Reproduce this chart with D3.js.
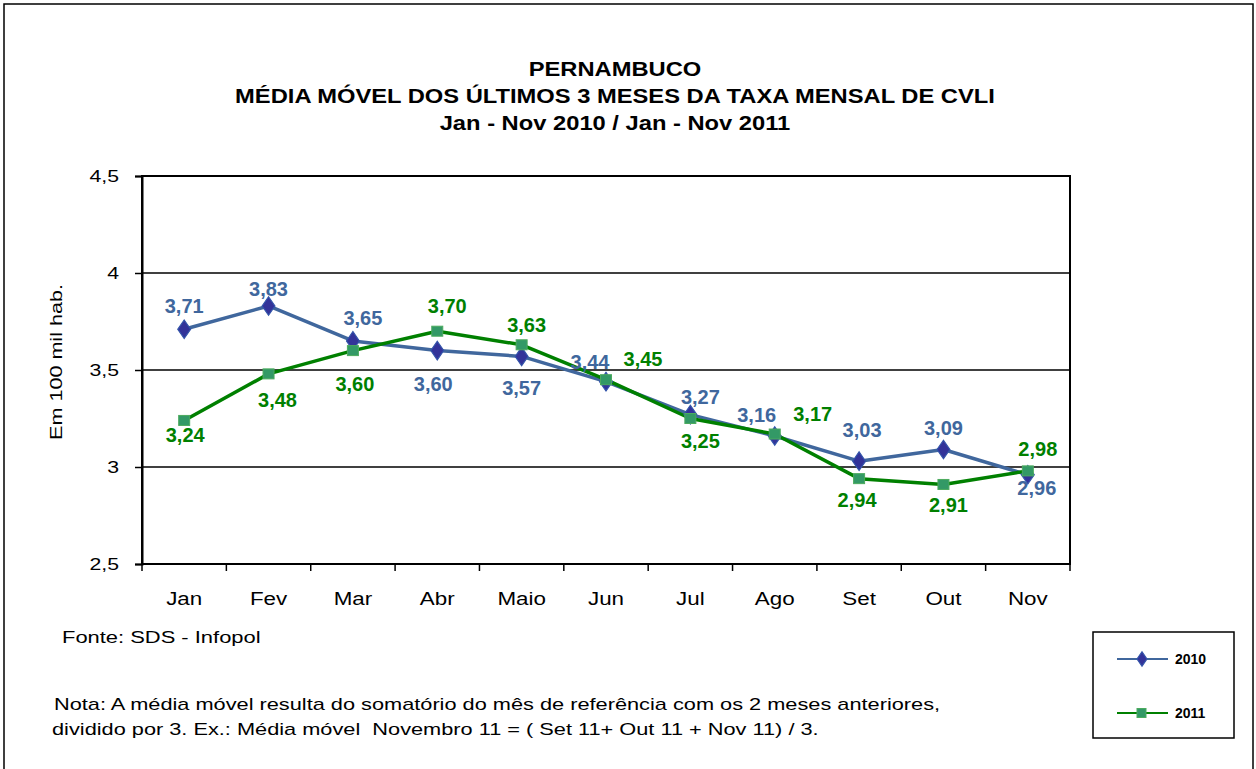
<!DOCTYPE html>
<html>
<head>
<meta charset="utf-8">
<script src="https://cdn.jsdelivr.net/npm/d3@7"></script>
<style>
    body, html { margin: 0; padding: 0; background: #fff; font-family: Arial, "Liberation Sans", sans-serif; }
    #container { width: 1256px; height: 769px; }
    .lbl { font-weight: bold; font-size: 20px; text-anchor: middle; dominant-baseline: central; }
</style>
</head>
<body>
<div id="container"></div>
<script>
    // data
    const months = ["Jan", "Fev", "Mar", "Abr", "Maio", "Jun", "Jul", "Ago", "Set", "Out", "Nov"];
    const values2010 = [3.71, 3.83, 3.65, 3.60, 3.57, 3.44, 3.27, 3.16, 3.03, 3.09, 2.96];
    const values2011 = [3.24, 3.48, 3.60, 3.70, 3.63, 3.45, 3.25, 3.17, 2.94, 2.91, 2.98];
    const yTicks = [2.5, 3, 3.5, 4, 4.5];

    // label offsets (px) from each point, as placed in the original
    const off2010 = [[0, -23], [0, -17], [10, -23], [-4, 33], [0, 32], [-16, -20], [10, -18], [-18, -21], [3, -31], [0, -22], [9, 13]];
    const off2011 = [[1, 15], [9, 26], [2, 33], [10, -25], [5, -20], [37, -21], [10, 22], [38, -20], [-2, 21], [5, 21], [10, -22]];

    const blue = "#40679D", blueMarker = "#333399";
    const green = "#008000", greenMarker = "#339966";

    const W = 1256, H = 769;
    const plot = { left: 142, right: 1070, top: 176, bottom: 564 };

    // the original text is drawn wider than normal Arial
    function stretch(sel, s) {
        sel.each(function () {
            const t = d3.select(this);
            const x = +t.attr("x") || 0, y = +t.attr("y") || 0;
            t.attr("transform", `translate(${x},${y}) scale(${s},1) translate(${-x},${-y})`);
        });
    }

    const svg = d3.select("#container").append("svg")
        .attr("width", W).attr("height", H);

    // outer frame
    svg.append("rect")
        .attr("x", 4).attr("y", 4).attr("width", 1249).attr("height", 775)
        .attr("fill", "none").attr("stroke", "#000").attr("stroke-width", 1.5);

    // title
    const title = ["PERNAMBUCO", "MÉDIA MÓVEL DOS ÚLTIMOS 3 MESES DA TAXA MENSAL DE CVLI", "Jan - Nov 2010 / Jan - Nov 2011"];
    const titleText = svg.append("g").selectAll("text").data(title).join("text")
        .attr("x", 615).attr("y", (d, i) => 76 + i * 27)
        .attr("text-anchor", "middle")
        .style("font-weight", "bold").style("font-size", "21px")
        .text(d => d);
    stretch(titleText, 1.13);

    const x = d3.scaleBand().domain(months).range([plot.left, plot.right]);
    const y = d3.scaleLinear().domain([2.5, 4.5]).range([plot.bottom, plot.top]);
    const cx = m => x(m) + x.bandwidth() / 2;

    // gridlines
    svg.append("g").selectAll("line").data([3, 3.5, 4]).join("line")
        .attr("x1", plot.left).attr("x2", plot.right)
        .attr("y1", d => y(d)).attr("y2", d => y(d))
        .attr("stroke", "#000").attr("stroke-width", 1.5);

    // plot frame
    svg.append("rect")
        .attr("x", plot.left).attr("y", plot.top)
        .attr("width", plot.right - plot.left).attr("height", plot.bottom - plot.top)
        .attr("fill", "none").attr("stroke", "#000").attr("stroke-width", 2);

    // y axis
    const yAxis = svg.append("g")
        .attr("transform", `translate(${plot.left},0)`)
        .call(d3.axisLeft(y).tickValues(yTicks).tickSize(7).tickPadding(16)
            .tickFormat(d => String(d).replace(".", ",")));
    yAxis.select(".domain").attr("stroke-width", 2);
    yAxis.selectAll(".tick line").attr("stroke-width", 1.5);
    yAxis.selectAll("text").style("font-size", "17px").style("font-family", "Arial, 'Liberation Sans', sans-serif").attr("fill", "#000");
    stretch(yAxis.selectAll("text"), 1.25);

    // x axis
    const xAxis = svg.append("g")
        .attr("transform", `translate(0,${plot.bottom})`)
        .call(d3.axisBottom(x).tickSize(0).tickPadding(29));
    xAxis.select(".domain").remove();
    xAxis.selectAll("text").style("font-size", "17.5px").style("font-family", "Arial, 'Liberation Sans', sans-serif").attr("fill", "#000");
    stretch(xAxis.selectAll("text"), 1.28);
    const bounds = months.map(m => x(m)).concat([plot.right]);
    svg.append("g").selectAll("line").data(bounds).join("line")
        .attr("x1", d => d).attr("x2", d => d)
        .attr("y1", plot.bottom).attr("y2", plot.bottom + 7)
        .attr("stroke", "#000").attr("stroke-width", 1.5);

    // y axis title
    svg.append("text")
        .attr("transform", "translate(62,362) rotate(-90) scale(1.27,1)")
        .attr("text-anchor", "middle")
        .style("font-size", "17px")
        .text("Em 100 mil hab.");

    const line = d3.line().x((d, i) => cx(months[i])).y(d => y(d));
    const diamond = d3.symbol().type(d3.symbolDiamond).size(100);

    // 2010 series
    svg.append("path").datum(values2010)
        .attr("d", line).attr("fill", "none")
        .attr("stroke", blue).attr("stroke-width", 3.5).attr("stroke-linejoin", "round");
    // 2011 series
    svg.append("path").datum(values2011)
        .attr("d", line).attr("fill", "none")
        .attr("stroke", green).attr("stroke-width", 3.5).attr("stroke-linejoin", "round");

    svg.append("g").selectAll("path").data(values2010).join("path")
        .attr("d", diamond)
        .attr("transform", (d, i) => `translate(${cx(months[i])},${y(d)}) scale(1.2,1)`)
        .attr("fill", blueMarker).attr("stroke", "#3355aa").attr("stroke-width", 1);

    svg.append("g").selectAll("rect").data(values2011).join("rect")
        .attr("x", (d, i) => cx(months[i]) - 5.5).attr("y", d => y(d) - 5)
        .attr("width", 11).attr("height", 10)
        .attr("fill", greenMarker).attr("stroke", "#4cab5e").attr("stroke-width", 1);

    const fmt = v => v.toFixed(2).replace(".", ",");

    svg.append("g").selectAll("text").data(values2010).join("text")
        .attr("class", "lbl").attr("fill", blue)
        .attr("x", (d, i) => cx(months[i]) + off2010[i][0])
        .attr("y", (d, i) => y(d) + off2010[i][1])
        .text(fmt);

    svg.append("g").selectAll("text").data(values2011).join("text")
        .attr("class", "lbl").attr("fill", green)
        .attr("x", (d, i) => cx(months[i]) + off2011[i][0])
        .attr("y", (d, i) => y(d) + off2011[i][1])
        .text(fmt);

    // source and note
    const fonte = svg.append("text").attr("x", 62).attr("y", 643).style("font-size", "17px")
        .text("Fonte: SDS - Infopol");
    stretch(fonte, 1.29);
    const note = ["Nota: A média móvel resulta do somatório do mês de referência com os 2 meses anteriores,",
        "dividido por 3. Ex.: Média móvel  Novembro 11 = ( Set 11+ Out 11 + Nov 11) / 3."];
    const noteText = svg.append("g").selectAll("text").data(note).join("text")
        .attr("x", (d, i) => i === 0 ? 54 : 52).attr("y", (d, i) => 710 + i * 25)
        .style("font-size", "17px")
        .attr("xml:space", "preserve")
        .text(d => d);
    stretch(noteText, 1.28);

    // legend
    const legend = svg.append("g");
    legend.append("rect")
        .attr("x", 1093).attr("y", 632).attr("width", 141).attr("height", 106)
        .attr("fill", "#fff").attr("stroke", "#000").attr("stroke-width", 1.5);
    const legItems = [
        { name: "2010", color: blue, y: 659 },
        { name: "2011", color: green, y: 713 }
    ];
    legItems.forEach((it, k) => {
        legend.append("line")
            .attr("x1", 1117).attr("x2", 1168).attr("y1", it.y).attr("y2", it.y)
            .attr("stroke", it.color).attr("stroke-width", 2);
        if (k === 0) {
            legend.append("path").attr("d", d3.symbol().type(d3.symbolDiamond).size(60))
                .attr("transform", `translate(1142,${it.y}) scale(1.2,1)`)
                .attr("fill", blueMarker).attr("stroke", "#3355aa");
        } else {
            legend.append("rect").attr("x", 1137).attr("y", it.y - 4.5).attr("width", 9).attr("height", 9)
                .attr("fill", greenMarker).attr("stroke", "#4cab5e");
        }
        legend.append("text")
            .attr("x", 1175).attr("y", it.y + 5)
            .style("font-weight", "bold").style("font-size", "14px")
            .text(it.name);
    });
</script>
</body>
</html>
